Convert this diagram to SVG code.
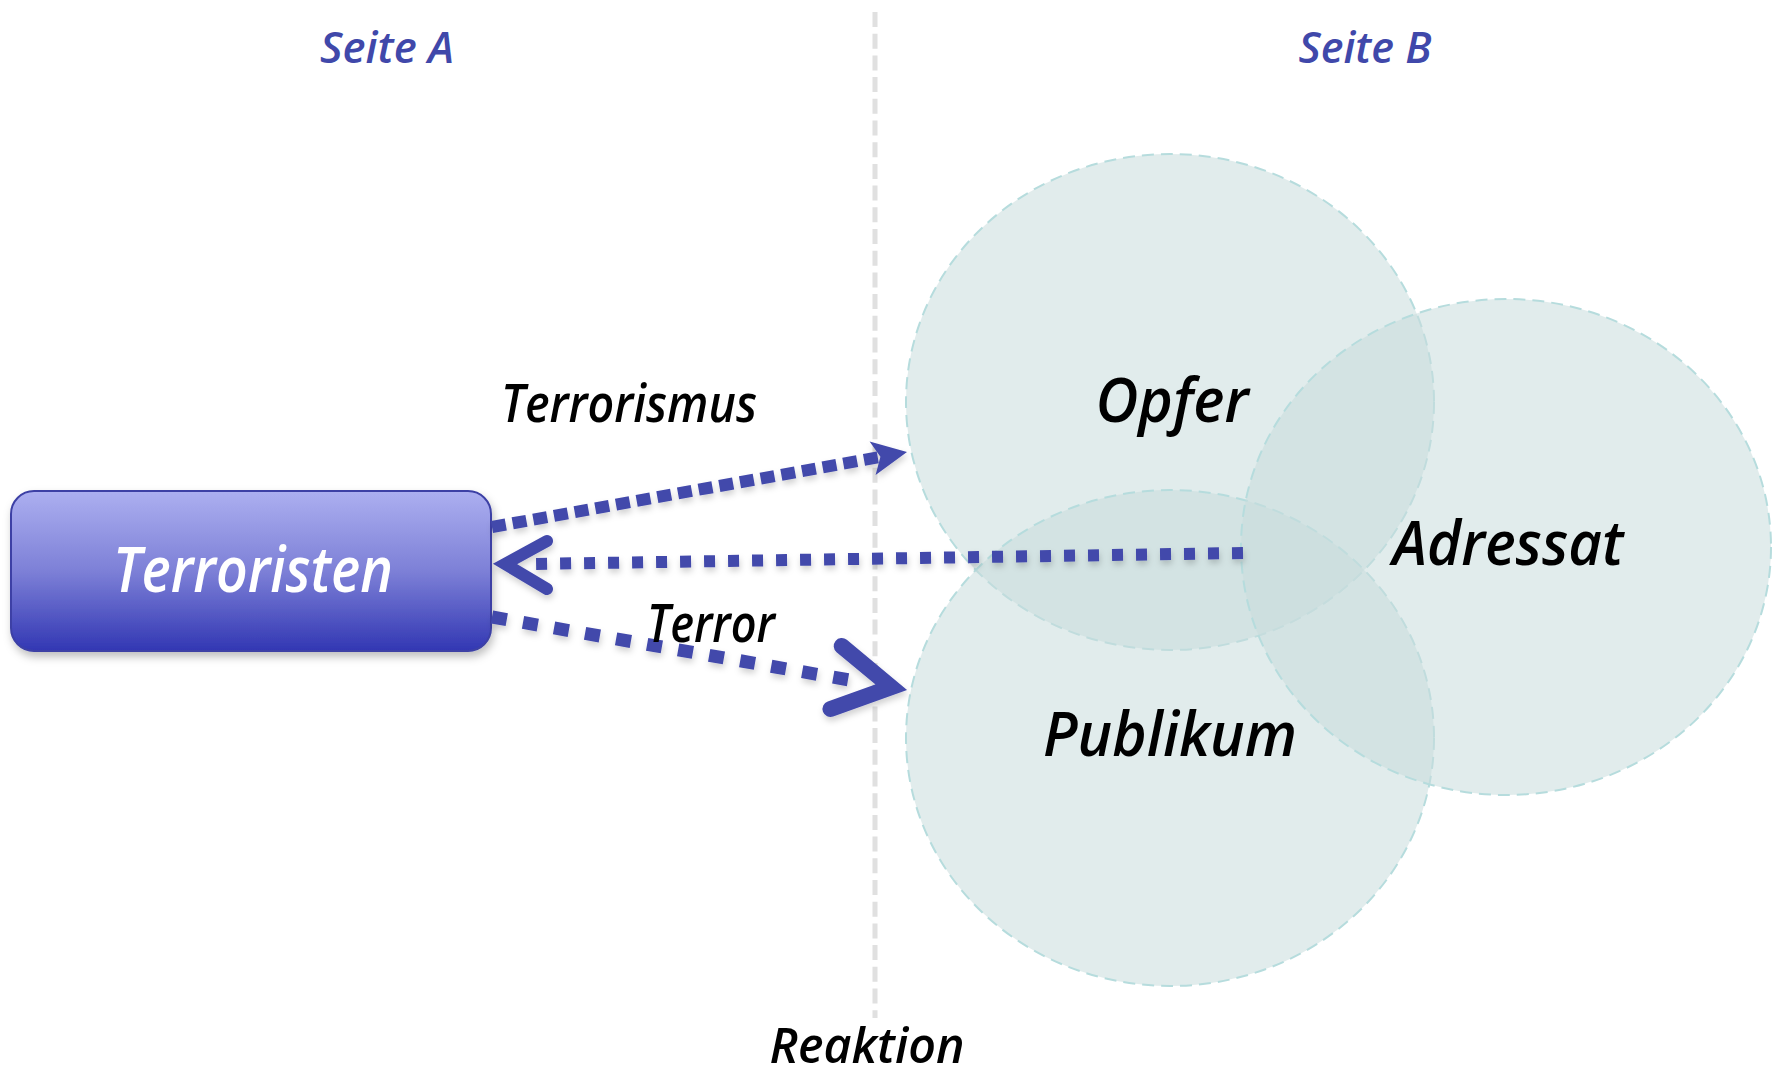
<svg xmlns="http://www.w3.org/2000/svg" width="1778" height="1077" viewBox="0 0 1778 1077">
  <style>
    .title { font-family: "Open Sans", "Noto Sans", "Liberation Sans", sans-serif; font-style: italic; font-weight: 600; font-size: 43px; fill: #4048aa; }
    .label { font-family: "Open Sans", "Noto Sans", "Liberation Sans", sans-serif; font-style: italic; font-weight: 600; fill: #000000; }
    .circle { fill: #c8dddd; fill-opacity: 0.55; stroke: #b6dcdd; stroke-width: 2; stroke-dasharray: 12 7; }
    .shaft { fill: none; stroke: #4249ab; }
    .chev { fill: none; stroke: #4249ab; stroke-linecap: round; stroke-linejoin: miter; stroke-miterlimit: 10; }
    .head { fill: #4249ab; }
    .divider { stroke: #e0e0e0; stroke-width: 5; stroke-dasharray: 15 6.7; fill: none; }
  </style>
  <defs>
    <linearGradient id="boxGrad" x1="0" y1="0" x2="0" y2="1">
      <stop offset="0" stop-color="#acaff0"/>
      <stop offset="0.5" stop-color="#7d80d7"/>
      <stop offset="1" stop-color="#3237b3"/>
    </linearGradient>
    <filter id="boxShadow" x="-10%" y="-10%" width="125%" height="135%">
      <feDropShadow dx="2" dy="5" stdDeviation="4" flood-color="#000000" flood-opacity="0.25"/>
    </filter>
    <filter id="lineShadow" x="-10%" y="-30%" width="120%" height="160%">
      <feDropShadow dx="1" dy="4" stdDeviation="3" flood-color="#000000" flood-opacity="0.18"/>
    </filter>
  </defs>

  <rect width="1778" height="1077" fill="#ffffff"/>

  <line class="divider" x1="875" y1="12" x2="875" y2="1018"/>

  <text class="title" x="387" y="63" text-anchor="middle" textLength="134" lengthAdjust="spacingAndGlyphs">Seite A</text>
  <text class="title" x="1365" y="63" text-anchor="middle" textLength="133" lengthAdjust="spacingAndGlyphs">Seite B</text>

  <g id="node-opfer">
    <ellipse class="circle" cx="1170" cy="402" rx="264" ry="248"/>
    <text class="label" x="1172" y="422" font-size="62" text-anchor="middle" textLength="153" lengthAdjust="spacingAndGlyphs">Opfer</text>
  </g>
  <g id="node-publikum">
    <ellipse class="circle" cx="1170" cy="738" rx="264" ry="248"/>
    <text class="label" x="1170" y="756" font-size="62" text-anchor="middle" textLength="254" lengthAdjust="spacingAndGlyphs">Publikum</text>
  </g>
  <g id="node-adressat">
    <ellipse class="circle" cx="1506" cy="547" rx="265" ry="248"/>
    <text class="label" x="1508" y="565" font-size="62" text-anchor="middle" textLength="231" lengthAdjust="spacingAndGlyphs">Adressat</text>
  </g>

  <g id="node-terroristen">
    <rect x="11" y="491" width="480" height="160" rx="23" ry="23" fill="url(#boxGrad)" stroke="#3c41a5" stroke-width="2" filter="url(#boxShadow)"/>
    <text x="253" y="592" font-family="'Open Sans', 'Noto Sans', 'Liberation Sans', sans-serif" font-style="italic" font-weight="600" font-size="63" fill="#ffffff" text-anchor="middle" textLength="280" lengthAdjust="spacingAndGlyphs">Terroristen</text>
  </g>

  <g id="connectors" filter="url(#lineShadow)">
    <!-- Terrorismus: Terroristen -> Opfer -->
    <path class="shaft" d="M492,527 L880,457" stroke-width="12" stroke-dasharray="14 7"/>
    <path class="head" d="M907,452 L869.6,441.5 L880.4,456.8 L875.6,474.9 Z"/>
    <!-- Reaktion: Adressat -> Terroristen -->
    <path class="shaft" d="M1243,553 L530,564" stroke-width="12" stroke-dasharray="11 13"/>
    <path class="chev" d="M547,541 L505,564 L547,589" stroke-width="12"/>
    <!-- Terror: Terroristen -> Publikum -->
    <path class="shaft" d="M492,617 L855,681" stroke-width="13" stroke-dasharray="15 16.5"/>
    <path class="chev" d="M841.7,646 L891.2,687.2 L830.5,709" stroke-width="16"/>
  </g>

  <g id="connector-labels">
    <text class="label" x="629" y="422" font-size="52" text-anchor="middle" textLength="256" lengthAdjust="spacingAndGlyphs">Terrorismus</text>
    <text class="label" x="711" y="642" font-size="52" text-anchor="middle" textLength="128" lengthAdjust="spacingAndGlyphs">Terror</text>
    <text class="label" x="867" y="1063" font-size="49" text-anchor="middle" textLength="195" lengthAdjust="spacingAndGlyphs">Reaktion</text>
  </g>
</svg>
